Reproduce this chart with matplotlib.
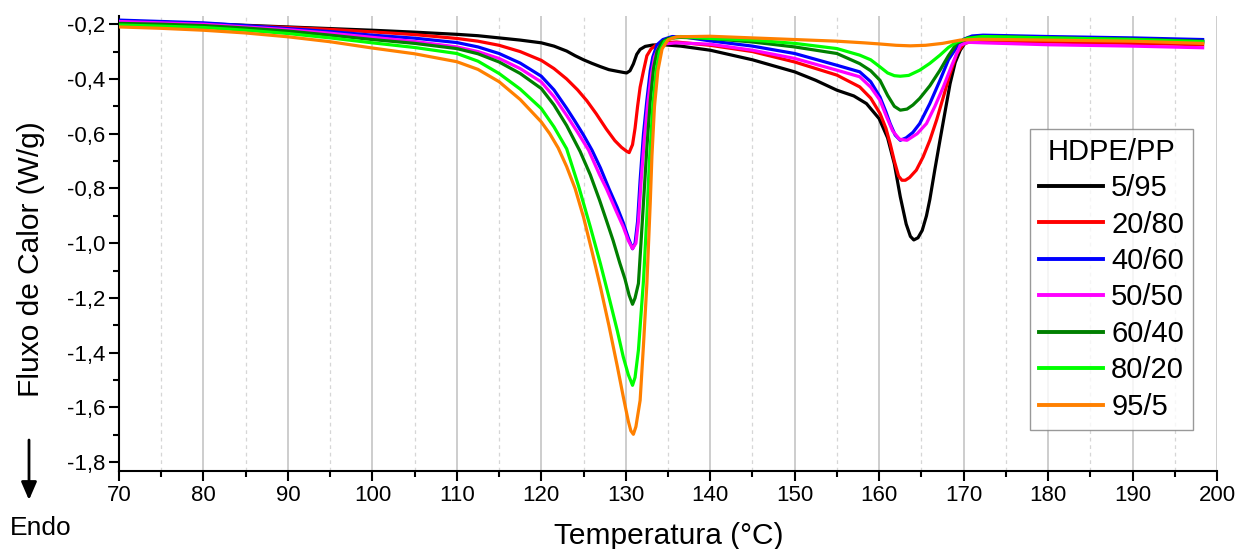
import matplotlib
matplotlib.use("Agg")
import matplotlib.pyplot as plt
from matplotlib.ticker import MultipleLocator, FuncFormatter

plt.rcParams['font.family'] = ['Liberation Sans', 'DejaVu Sans']

# ---------------- data ----------------
labels = ["5/95", "20/80", "40/60", "50/50", "60/40", "80/20", "95/5"]
colors = ["#000000", "#FF0000", "#0000FF", "#FF00FF", "#007F00", "#00FF00", "#FF8000"]

t_5_95 = [70, 75, 80, 85, 90, 95, 100, 105, 110, 112.5, 115, 117.5, 120, 121.5, 123, 124, 125, 126, 127,
          128, 129, 129.7, 130.1, 130.5, 130.9, 131.3, 131.7, 132.3, 133.2, 134.5, 136.5, 140, 145, 150,
          152.5, 155, 157, 158.5, 160, 161, 161.8, 162.5, 163.2, 163.7, 164.1, 164.6, 165.1, 165.6, 166,
          166.6, 167.2, 167.8, 168.4, 169, 169.6, 170.4, 171.5, 175, 180, 190, 198.3]
v_5_95 = [-0.188, -0.193, -0.198, -0.204, -0.21, -0.216, -0.222, -0.229, -0.237, -0.242, -0.25, -0.258,
          -0.268, -0.28, -0.298, -0.315, -0.33, -0.343, -0.355, -0.366, -0.372, -0.376, -0.378, -0.37,
          -0.345, -0.31, -0.292, -0.281, -0.276, -0.275, -0.28, -0.295, -0.33, -0.374, -0.405, -0.441,
          -0.462, -0.49, -0.545, -0.615, -0.71, -0.83, -0.93, -0.975, -0.988, -0.98, -0.953, -0.9, -0.84,
          -0.73, -0.624, -0.52, -0.417, -0.34, -0.295, -0.258, -0.245, -0.246, -0.25, -0.258, -0.265]

t_20_80 = [70, 75, 80, 85, 90, 95, 100, 105, 110, 112.5, 115, 117.5, 120, 121.5, 123, 124.3, 125.4, 126.5,
           127.7, 128.7, 129.5, 130.1, 130.4, 130.8, 131.1, 131.4, 131.7, 132.1, 132.5, 133, 133.6, 134.5,
           136, 140, 145, 150, 155, 157.7, 159, 160.1, 160.8, 161.3, 161.8, 162.3, 162.7, 163.1, 163.6,
           164.4, 165.2, 166, 166.8, 167.6, 168.4, 169.2, 170, 171, 175, 180, 190, 198.3]
v_20_80 = [-0.193, -0.196, -0.2, -0.206, -0.212, -0.219, -0.228, -0.238, -0.252, -0.262, -0.277, -0.3,
           -0.332, -0.362, -0.4, -0.44, -0.48, -0.527, -0.583, -0.625, -0.65, -0.664, -0.669, -0.64, -0.58,
           -0.5, -0.43, -0.37, -0.315, -0.29, -0.276, -0.268, -0.265, -0.277, -0.30, -0.338, -0.386, -0.429,
           -0.47, -0.526, -0.58, -0.636, -0.70, -0.755, -0.77, -0.77, -0.76, -0.733, -0.685, -0.624, -0.55,
           -0.466, -0.38, -0.307, -0.272, -0.262, -0.263, -0.265, -0.27, -0.275]

t_40_60 = [70, 75, 80, 85, 90, 95, 100, 105, 110, 112.5, 115, 117.5, 120, 121.5, 123, 124, 125, 126, 127,
           128, 129, 129.7, 130.3, 130.8, 131.1, 131.4, 131.7, 132.1, 132.5, 132.9, 133.2, 133.7, 134.4,
           135.5, 137, 140, 145, 150, 155, 157.7, 159, 160.1, 160.8, 161.3, 161.9, 162.5, 163.2, 164,
           164.8, 166, 167.2, 168.2, 169.2, 170, 171, 172.3, 180, 190, 198.3]
v_40_60 = [-0.185, -0.19, -0.195, -0.205, -0.216, -0.227, -0.24, -0.251, -0.267, -0.283, -0.307, -0.342,
           -0.39, -0.44, -0.507, -0.555, -0.605, -0.66, -0.725, -0.8, -0.87, -0.925, -0.98, -1.02, -1.0,
           -0.92, -0.77, -0.6, -0.478, -0.37, -0.32, -0.275, -0.256, -0.245, -0.247, -0.261, -0.28, -0.307,
           -0.35, -0.374, -0.41, -0.466, -0.52, -0.563, -0.605, -0.624, -0.615, -0.595, -0.563, -0.49,
           -0.405, -0.33, -0.283, -0.255, -0.243, -0.24, -0.245, -0.25, -0.256]

t_50_50 = [70, 75, 80, 85, 90, 95, 100, 105, 110, 112.5, 115, 117.5, 120, 121.5, 123, 124.3, 125.6, 126.9,
           127.7, 128.9, 129.7, 130.3, 130.8, 131.2, 131.5, 131.8, 132.2, 132.6, 133.0, 133.4, 133.9, 134.6,
           136, 140, 145, 150, 155, 157.7, 159, 160.1, 160.9, 161.6, 162.4, 163.3, 164.5, 165.6, 166.6,
           167.6, 168.6, 169.6, 170.5, 172.3, 180, 190, 198.3]
v_50_50 = [-0.19, -0.195, -0.2, -0.21, -0.22, -0.233, -0.248, -0.263, -0.283, -0.3, -0.325, -0.362, -0.411,
           -0.465, -0.533, -0.595, -0.66, -0.75, -0.80, -0.885, -0.94, -0.99, -1.02, -1.0, -0.92, -0.78,
           -0.62, -0.49, -0.39, -0.32, -0.285, -0.272, -0.268, -0.273, -0.295, -0.325, -0.368, -0.392, -0.43,
           -0.478, -0.54, -0.59, -0.62, -0.624, -0.6, -0.563, -0.5, -0.429, -0.35, -0.277, -0.266, -0.268,
           -0.275, -0.28, -0.286]

t_60_40 = [70, 75, 80, 85, 90, 95, 100, 105, 110, 112.5, 115, 117.5, 120, 121.5, 123, 124.6, 125.8, 126.9,
           127.7, 128.5, 129.3, 129.9, 130.4, 130.8, 131.1, 131.5, 131.8, 132.1, 132.5, 132.9, 133.3, 133.7,
           134.3, 135, 136.5, 140, 145, 150, 155, 157.7, 159, 160.1, 161, 161.8, 162.5, 163.3, 164, 164.8,
           166, 167.2, 168.2, 169.2, 170.5, 172.3, 180, 190, 198.3]
v_60_40 = [-0.197, -0.2, -0.205, -0.214, -0.225, -0.24, -0.256, -0.27, -0.289, -0.308, -0.338, -0.38,
           -0.435, -0.495, -0.57, -0.665, -0.75, -0.843, -0.916, -0.99, -1.073, -1.13, -1.19, -1.223, -1.2,
           -1.147, -1.0, -0.85, -0.65, -0.48, -0.36, -0.3, -0.265, -0.252, -0.248, -0.252, -0.265, -0.283,
           -0.307, -0.344, -0.37, -0.405, -0.46, -0.5, -0.514, -0.51, -0.495, -0.471, -0.425, -0.368, -0.315,
           -0.27, -0.25, -0.245, -0.25, -0.255, -0.262]

t_80_20 = [70, 75, 80, 85, 90, 95, 100, 105, 110, 112.5, 115, 117.5, 120, 121.5, 123, 124.4, 125.8, 127,
           128.1, 129, 129.7, 130.3, 130.8, 131.1, 131.5, 132.1, 132.5, 132.8, 133.2, 133.6, 134.0, 134.6,
           135.5, 136.5, 140, 145, 150, 155, 157.7, 159, 160.1, 161, 161.8, 162.5, 163.5, 164.8, 166,
           167.2, 168.2, 169.2, 170.5, 172.3, 180, 190, 198.3]
v_80_20 = [-0.203, -0.207, -0.212, -0.222, -0.234, -0.25, -0.268, -0.285, -0.307, -0.335, -0.38, -0.437,
           -0.508, -0.575, -0.655, -0.79, -0.94, -1.075, -1.208, -1.32, -1.415, -1.48, -1.519, -1.49, -1.39,
           -1.135, -0.9, -0.7, -0.5, -0.37, -0.3, -0.263, -0.25, -0.245, -0.252, -0.258, -0.27, -0.289,
           -0.313, -0.33, -0.356, -0.378, -0.388, -0.39, -0.387, -0.368, -0.343, -0.313, -0.285, -0.265,
           -0.252, -0.245, -0.25, -0.256, -0.264]

t_95_5 = [70, 75, 80, 85, 90, 95, 100, 105, 110, 112.5, 115, 117.5, 120, 121, 122, 123, 124, 125, 126, 127,
          128, 129, 129.7, 130.3, 130.6, 130.9, 131.2, 131.7, 132.1, 132.5, 132.9, 133.1, 133.4, 133.8,
          134.3, 135, 136, 140, 145, 150, 155, 158.2, 160, 162, 163.7, 165.5, 167.5, 169.6, 172, 180, 190,
          198.3]
v_95_5 = [-0.21, -0.215, -0.222, -0.232, -0.246, -0.264, -0.287, -0.308, -0.337, -0.365, -0.41, -0.475,
          -0.557, -0.6, -0.652, -0.72, -0.80, -0.905, -1.03, -1.16, -1.3, -1.45, -1.56, -1.65, -1.685,
          -1.698, -1.67, -1.574, -1.37, -1.147, -0.85, -0.68, -0.5, -0.37, -0.29, -0.257, -0.246, -0.244,
          -0.25, -0.256, -0.262, -0.268, -0.272, -0.277, -0.279, -0.277, -0.27, -0.258, -0.255, -0.258,
          -0.262, -0.27]

series_t = [t_5_95, t_20_80, t_40_60, t_50_50, t_60_40, t_80_20, t_95_5]
series_v = [v_5_95, v_20_80, v_40_60, v_50_50, v_60_40, v_80_20, v_95_5]

# ---------------- figure ----------------
W, H = 1240, 549
fig = plt.figure(figsize=(W / 100, H / 100), dpi=100)
ax_l, ax_r, ax_t, ax_b = 119, 1217, 16, 471
ax = fig.add_axes([ax_l / W, 1 - ax_b / H, (ax_r - ax_l) / W, (ax_b - ax_t) / H])

for t, v, c, lab in zip(series_t, series_v, colors, labels):
    ax.plot(t, v, color=c, lw=2.3, label=lab, solid_joinstyle='round', zorder=3)

ax.set_xlim(70, 200)
ax.set_ylim(-1.832, -0.17)

ax.xaxis.set_major_locator(MultipleLocator(10))
ax.xaxis.set_minor_locator(MultipleLocator(5))
ax.yaxis.set_major_locator(MultipleLocator(0.2))
ax.yaxis.set_minor_locator(MultipleLocator(0.1))
ax.yaxis.set_major_formatter(FuncFormatter(lambda y, p: f"{y:.1f}".replace('.', ',')))

ax.grid(True, which='major', axis='x', color='#c0c0c0', lw=1.1, ls='-', zorder=0)
ax.grid(True, which='minor', axis='x', color='#d6d6d6', lw=0.9, ls=(0, (3, 3)), zorder=0)

for s in ['top', 'right']:
    ax.spines[s].set_visible(False)
for s in ['left', 'bottom']:
    ax.spines[s].set_linewidth(1.5)

ax.tick_params(which='major', direction='out', length=7, width=1.5, labelsize=16, pad=3)
ax.tick_params(which='minor', direction='out', length=4, width=1.5)

ax.set_xlabel("Temperatura (°C)", fontsize=21.5)
ax.set_ylabel("Fluxo de Calor (W/g)", fontsize=21.5)
ax.xaxis.set_label_coords(0.501, -0.113)
ax.yaxis.set_label_coords(-0.067, 0.466)

leg = ax.legend(title="HDPE/PP", loc='upper right', bbox_to_anchor=(0.978, 0.752),
                borderaxespad=0, fontsize=21, title_fontsize=21, frameon=True, fancybox=False,
                edgecolor='#808080', handlelength=2.2, handletextpad=0.27, labelspacing=0.29,
                borderpad=0.3)
leg.get_frame().set_linewidth(1.0)
for line in leg.get_lines():
    line.set_linewidth(2.8)

# Endo arrow and text
ax.annotate('', xy=(29 / W, 1 - 500 / H), xytext=(29 / W, 1 - 440 / H),
            xycoords='figure fraction', textcoords='figure fraction',
            arrowprops=dict(arrowstyle='-|>,head_length=0.6,head_width=0.26', lw=2,
                            color='black', mutation_scale=18, shrinkA=0, shrinkB=0))
fig.text(10 / W, 1 - 535 / H, "Endo", fontsize=19, ha='left', va='baseline')

fig.savefig("out.png", dpi=100)
